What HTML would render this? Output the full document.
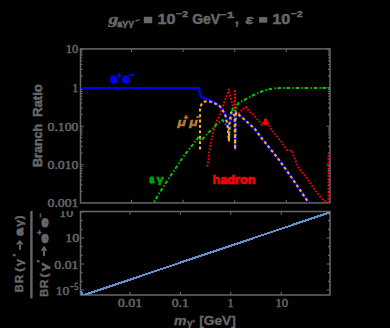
<!DOCTYPE html>
<html><head><meta charset="utf-8">
<style>
html,body{margin:0;padding:0;background:#000;}
body{width:390px;height:328px;overflow:hidden;}
svg{display:block;}
.sans{font-family:"Liberation Sans",sans-serif;font-weight:bold;}
.serif{font-family:"Liberation Serif",serif;}
</style></head><body>
<svg width="390" height="328" viewBox="0 0 390 328">
<rect width="390" height="328" fill="#000"/>
<defs>
<clipPath id="ct"><rect x="80.5" y="48.5" width="249.5" height="154.5"/></clipPath>
<clipPath id="cl"><rect x="0" y="211" width="390" height="117"/></clipPath>
<clipPath id="cb"><rect x="80.5" y="212" width="249.5" height="83"/></clipPath>
</defs>

<!-- title -->
<g class="sans" fill="#686868" stroke="#686868" stroke-width="0.45">
<text x="108.4" y="23.6" font-size="15.5" font-style="italic" font-family="Liberation Serif" textLength="9.8" lengthAdjust="spacingAndGlyphs">g</text>
<text x="117.4" y="26.6" font-size="9" stroke-width="0.9" textLength="4.6" lengthAdjust="spacingAndGlyphs">a</text>
<text x="122.2" y="26.4" font-size="9" stroke-width="0.3" textLength="12" lengthAdjust="spacingAndGlyphs">γγ</text>
<path stroke="none" d="M135.2,20.6 L139.6,18.9 L139.9,20.3 L135.6,21.8 Z"/>
<rect x="144" y="17" width="8" height="6"/>
<text x="157.6" y="23.7" font-size="15" textLength="18" lengthAdjust="spacingAndGlyphs">10</text>
<text x="176" y="17" font-size="9.5" textLength="12" lengthAdjust="spacingAndGlyphs">−2</text>
<text x="192.2" y="23.5" font-size="14" textLength="28" lengthAdjust="spacingAndGlyphs">GeV</text>
<text x="218.8" y="17.6" font-size="9.5" textLength="15.6" lengthAdjust="spacingAndGlyphs">−1</text>
<text x="235" y="24" font-size="14">,</text>
<text x="245.5" y="23.5" font-size="12" font-style="italic" textLength="8" lengthAdjust="spacingAndGlyphs">ε</text>
<rect x="259.2" y="17.2" width="7.8" height="5.2"/>
<text x="272.3" y="23.8" font-size="15" textLength="18" lengthAdjust="spacingAndGlyphs">10</text>
<text x="290.7" y="16.9" font-size="9.5" textLength="12" lengthAdjust="spacingAndGlyphs">−2</text>
</g>

<!-- frames -->
<g fill="none" stroke="#686868" stroke-width="1.5">
<rect x="80.5" y="48.9" width="249.5" height="154"/>
<rect x="80.5" y="211.5" width="249.5" height="83.5"/>
</g>
<path d="M80.5,191.61h2M330,191.61h-2M80.5,184.83h2M330,184.83h-2M80.5,180.02h2M330,180.02h-2M80.5,176.29h2M330,176.29h-2M80.5,173.24h2M330,173.24h-2M80.5,170.66h2M330,170.66h-2M80.5,168.43h2M330,168.43h-2M80.5,166.46h2M330,166.46h-2M80.5,164.70h3.5M330,164.70h-3.5M80.5,153.11h2M330,153.11h-2M80.5,146.33h2M330,146.33h-2M80.5,141.52h2M330,141.52h-2M80.5,137.79h2M330,137.79h-2M80.5,134.74h2M330,134.74h-2M80.5,132.16h2M330,132.16h-2M80.5,129.93h2M330,129.93h-2M80.5,127.96h2M330,127.96h-2M80.5,126.20h3.5M330,126.20h-3.5M80.5,114.61h2M330,114.61h-2M80.5,107.83h2M330,107.83h-2M80.5,103.02h2M330,103.02h-2M80.5,99.29h2M330,99.29h-2M80.5,96.24h2M330,96.24h-2M80.5,93.66h2M330,93.66h-2M80.5,91.43h2M330,91.43h-2M80.5,89.46h2M330,89.46h-2M80.5,87.70h3.5M330,87.70h-3.5M80.5,76.11h2M330,76.11h-2M80.5,69.33h2M330,69.33h-2M80.5,64.52h2M330,64.52h-2M80.5,60.79h2M330,60.79h-2M80.5,57.74h2M330,57.74h-2M80.5,55.16h2M330,55.16h-2M80.5,52.93h2M330,52.93h-2M80.5,50.96h2M330,50.96h-2M80.5,49.20h3.5M330,49.20h-3.5M131.50,202.9v-3.2M131.50,48.9v3.2M130.00,295v-3.2M130.00,211.5v3.2M183.10,202.9v-3.2M183.10,48.9v3.2M180.40,295v-3.2M180.40,211.5v3.2M234.70,202.9v-3.2M234.70,48.9v3.2M230.80,295v-3.2M230.80,211.5v3.2M286.30,202.9v-3.2M286.30,48.9v3.2M281.20,295v-3.2M281.20,211.5v3.2M80.5,290.00h3.5M330,290.00h-3.5M80.5,281.33h2M330,281.33h-2M80.5,272.67h2M330,272.67h-2M80.5,264.00h3.5M330,264.00h-3.5M80.5,255.33h2M330,255.33h-2M80.5,246.67h2M330,246.67h-2M80.5,238.00h3.5M330,238.00h-3.5M80.5,229.33h2M330,229.33h-2M80.5,220.67h2M330,220.67h-2M80.5,212.00h3.5M330,212.00h-3.5" stroke="#686868" stroke-width="1.1" fill="none"/>

<!-- y tick labels top -->
<g class="serif" fill="#686868" stroke="#686868" stroke-width="0.5" font-size="13">
<text x="65.7" y="53.3" textLength="12.6" lengthAdjust="spacingAndGlyphs">10</text>
<text x="72.3" y="92" textLength="6" lengthAdjust="spacingAndGlyphs">1</text>
<text x="47.5" y="130.8" font-size="13.3" textLength="31" lengthAdjust="spacingAndGlyphs">0.100</text>
<text x="47.5" y="169.3" font-size="13.3" textLength="31" lengthAdjust="spacingAndGlyphs">0.010</text>
<text x="47.5" y="207.4" font-size="13.3" textLength="31" lengthAdjust="spacingAndGlyphs">0.001</text>
</g>
<!-- y label top -->
<g class="sans" fill="#686868" stroke="#686868" stroke-width="0.5" font-size="12.5">
<text textLength="43" lengthAdjust="spacingAndGlyphs" transform="translate(42.2,166.9) rotate(-90)">Branch</text>
<text textLength="33" lengthAdjust="spacingAndGlyphs" transform="translate(42.2,117.1) rotate(-90)">Ratio</text>
</g>

<!-- curves top -->
<g clip-path="url(#ct)" fill="none" stroke-linejoin="round">
<!-- red hadron -->
<path stroke="#ff0000" stroke-width="1.8" stroke-dasharray="1.8 1.5" d="M207.3,166.5 L208.4,159.6 L209.1,152.8 L210.7,142.9 L213,133 L215.2,126.1 L216.8,120.8 L218.6,118 L229,89.5 L230.2,96.2 L231.4,99.9 L232.6,106 L234.6,109.6 L235,89.5 L235.2,109.6 L237.5,114.5 L240.6,111.4 L243,109 L246,106.7 L249,111.5 L253.3,114.7 L258.7,120.6 L262,125 L265.7,118.6 L269.3,125.9 L270.8,128.8 L275.2,134 L281,141.3 L286.9,150 L292,150.8 L294.2,157.4 L298.5,167.7 L307,178.4 L315.6,191.2 L322,198.6 L326.2,201.8 L328.4,201.8 L328.4,153"/>
<path fill="#ff0000" stroke="none" d="M262.8,124.5 L265.6,117.6 L268.8,125.8 Z"/>
<!-- green a gamma -->
<path stroke="#00c800" stroke-width="2" stroke-dasharray="3.6 2.3 1.4 1.7" stroke-dashoffset="-3.5" d="M153.9,202 L164.6,184.8 L174.4,170.1 L184.1,155.5 L193.9,143.3 L198.8,136.8 L200.5,140 L202.4,139.2 L208.5,132.5 L211.5,130 L215.9,125 L222.5,120 L228.4,127.7 L229,141 L229.6,128 L232.6,108.4 L235,110 L235.1,149.5 L235.6,108.5 L238.5,102.8 L245,99.6 L254.4,94.6 C258,93 262,91 268,89.5 C272,88.5 276,88 284,88 L330,88"/>
<!-- blue e+e- -->
<path stroke="#0000ff" stroke-width="2.2" d="M80.5,88 L199.1,88 L200,94.6 C201,97 202,97.6 203.4,97.7 L208.3,99.5 L214.4,102.6 L219.3,106.2 L222.9,110.5 L226,116.6 L227.6,126 L228.9,128 L229.4,124 L231,112.6 L233,112 L234.6,116 L235.1,149.5 L235.6,116 L236.3,112.6 L245,120 L254.9,129 L260,136 L278.8,159.6 L290,175.2 L308.1,202 L310,205"/>
<!-- orange mu mu -->
<path stroke="#ffae30" stroke-width="2.1" stroke-dasharray="2.8 2.6" stroke-dashoffset="-1.2" d="M200,150.6 L200,110 C200.5,105 202,102.5 205,101.5 L208.3,101.3 L211.3,102 L215.6,103.8 L219.3,105.6 L222.3,109.3 L225.4,115.4 L227.6,126 L228.9,141 L229.4,124 L231,112.6 L233,112 L234.6,116 L235.1,149.5 L235.6,116 L236.3,112.6 L245,120 L254.9,129 L260,136 L278.8,159.6 L290,175.2 L308.1,202 L310,205"/>
</g>

<!-- labels top -->
<g class="sans">
<g fill="#0000ff" stroke="#0000ff" stroke-width="1">
<text x="110.2" y="82.9" font-size="13" textLength="7.2" lengthAdjust="spacingAndGlyphs">e</text>
<text x="122.6" y="82.9" font-size="13" textLength="7.2" lengthAdjust="spacingAndGlyphs">e</text>
</g>
<g fill="#0000ff" stroke="#0000ff" stroke-width="0.5">
<text x="117" y="78.6" font-size="8.5">+</text>
<rect x="128.9" y="74.1" width="5.3" height="1.8" stroke="none"/>
</g>
<g fill="#b87a3a" stroke="#b87a3a" stroke-width="0.5">
<text x="177.4" y="126.1" font-size="10.5" font-style="italic" textLength="8.4" lengthAdjust="spacingAndGlyphs">μ</text>
<text x="189.2" y="126.1" font-size="10.5" font-style="italic" textLength="8.4" lengthAdjust="spacingAndGlyphs">μ</text>
<text x="183.7" y="120.3" font-size="7.5">+</text>
<rect x="196.2" y="116.2" width="4.6" height="1.5" stroke="none"/>
</g>
<g fill="#00a000" stroke="#00a000">
<text x="149.5" y="183.3" font-size="11" stroke-width="1.3" textLength="4.6" lengthAdjust="spacingAndGlyphs">a</text>
<text x="156.5" y="182.8" font-size="10.5" stroke-width="0.6" textLength="7.2" lengthAdjust="spacingAndGlyphs">γ</text>
</g>
<text x="212.6" y="183.8" font-size="12.5" fill="#ff0000" stroke="#ff0000" stroke-width="0.7" textLength="42.8" lengthAdjust="spacingAndGlyphs">hadron</text>
</g>

<!-- bottom panel -->
<g class="serif" fill="#686868" stroke="#686868" stroke-width="0.5" font-size="13.3">
<text x="59.2" y="216.8" textLength="14" lengthAdjust="spacingAndGlyphs" clip-path="url(#cl)">10</text>
<text x="65.3" y="242.1" textLength="14" lengthAdjust="spacingAndGlyphs">10</text>
<text x="54.3" y="269.2" textLength="24.2" lengthAdjust="spacingAndGlyphs">0.01</text>
<text x="55.8" y="295.2" textLength="13.5" lengthAdjust="spacingAndGlyphs">10</text>
<text x="69.6" y="289.6" font-size="9.5" textLength="8.8" lengthAdjust="spacingAndGlyphs">−5</text>
</g>
<g clip-path="url(#cb)" fill="none">
<path stroke="#6690cc" stroke-width="2.1" shape-rendering="crispEdges" d="M80.5,291.5 L83.3,295.3 L331,212"/>
</g>

<!-- bottom y label (fraction) -->
<g class="sans" fill="#686868" stroke="#686868" stroke-width="0.35">
<text transform="translate(23.4,292.3) rotate(-90)" font-size="11.5" textLength="7.8" lengthAdjust="spacingAndGlyphs">B</text>
<text transform="translate(23.4,283.1) rotate(-90)" font-size="11.5" textLength="8.2" lengthAdjust="spacingAndGlyphs">R</text>
<text transform="translate(23.4,272.0) rotate(-90)" font-size="11" textLength="4.6" lengthAdjust="spacingAndGlyphs">(</text>
<text transform="translate(23.4,266.2) rotate(-90)" font-size="11.5" textLength="7.4" lengthAdjust="spacingAndGlyphs">γ</text>
<text transform="translate(19.0,256.8) rotate(-90)" font-size="9" textLength="3.0" lengthAdjust="spacingAndGlyphs">'</text>
<text transform="translate(23.4,235.8) rotate(-90)" font-size="11.5" textLength="7.6" lengthAdjust="spacingAndGlyphs" stroke-width="1.1">a</text>
<text transform="translate(23.4,226.8) rotate(-90)" font-size="11.5" textLength="7.0" lengthAdjust="spacingAndGlyphs">γ</text>
<text transform="translate(23.4,219.4) rotate(-90)" font-size="11" textLength="4.0" lengthAdjust="spacingAndGlyphs">)</text>
<path stroke="none" d="M15.9,244.4 L23.7,244.4 L19.8,240.1 Z M19.1,244 h1.9 v5.7 h-1.9 Z"/>
</g>
<g class="sans" fill="#686868" stroke="#686868" stroke-width="0.35" clip-path="url(#cl)">
<text transform="translate(48.4,296.8) rotate(-90)" font-size="11.5" textLength="7.9" lengthAdjust="spacingAndGlyphs">B</text>
<text transform="translate(48.4,288.3) rotate(-90)" font-size="11.5" textLength="8.8" lengthAdjust="spacingAndGlyphs">R</text>
<text transform="translate(48.4,277.7) rotate(-90)" font-size="11" textLength="4.6" lengthAdjust="spacingAndGlyphs">(</text>
<text transform="translate(48.4,271.5) rotate(-90)" font-size="11.5" textLength="9.0" lengthAdjust="spacingAndGlyphs">γ</text>
<text transform="translate(43.0,262.7) rotate(-90)" font-size="9" textLength="3.0" lengthAdjust="spacingAndGlyphs">'</text>
<text transform="translate(48.4,242.9) rotate(-90)" font-size="11.5" textLength="9.0" lengthAdjust="spacingAndGlyphs" stroke-width="1.1">e</text>
<text transform="translate(41.8,235.3) rotate(-90)" font-size="8" textLength="5.6" lengthAdjust="spacingAndGlyphs">+</text>
<text transform="translate(48.4,227.2) rotate(-90)" font-size="11.5" textLength="9.0" lengthAdjust="spacingAndGlyphs" stroke-width="1.1">e</text>
<text transform="translate(43.0,217.5) rotate(-90)" font-size="8" textLength="4.4" lengthAdjust="spacingAndGlyphs">−</text>
<path stroke="none" d="M40.7,250.8 L47.4,250.8 L44.05,245.7 Z M43.1,250.4 h1.9 v5.7 h-1.9 Z"/>
</g>
<rect x="30.3" y="211" width="2.3" height="87.4" fill="#686868"/>

<!-- x tick labels -->
<g class="serif" fill="#686868" stroke="#686868" stroke-width="0.5" font-size="13.3">
<text x="117.7" y="307.3" textLength="24.5" lengthAdjust="spacingAndGlyphs">0.01</text>
<text x="171.8" y="307.3" textLength="17" lengthAdjust="spacingAndGlyphs">0.1</text>
<text x="227.5" y="307.3" textLength="6" lengthAdjust="spacingAndGlyphs">1</text>
<text x="275.4" y="307.3" textLength="12.6" lengthAdjust="spacingAndGlyphs">10</text>
</g>
<g class="sans" fill="#686868" stroke="#686868" stroke-width="0.3">
<text x="174" y="324.5" font-size="13" font-style="italic" textLength="12.5" lengthAdjust="spacingAndGlyphs">m</text>
<text x="187" y="326.3" font-size="9" textLength="8" lengthAdjust="spacingAndGlyphs">γ'</text>
<text x="199.3" y="324.8" font-size="13" textLength="36.5" lengthAdjust="spacingAndGlyphs">[GeV]</text>
</g>
</svg>
</body></html>
